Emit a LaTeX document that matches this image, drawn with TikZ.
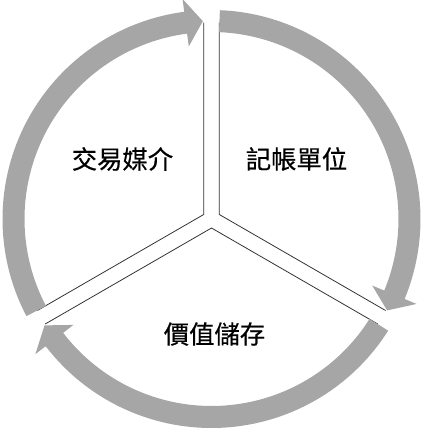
\documentclass[tikz,border=0pt]{standalone}
\usepackage{fontspec}
\newfontfamily\cjk[FakeBold=0.5]{Noto Sans CJK TC}

\begin{document}
\begin{tikzpicture}[x=0.75pt, y=0.75pt,
  band/.style={fill=black!35},
  side/.style={draw=black!80, line width=0.6pt},
  word/.style={font=\cjk\fontsize{19}{22}\selectfont, inner sep=0pt}]

  \useasboundingbox (0,0) rectangle (427,430);
  \coordinate (c) at (211.5,211);

  % three slices, pushed a little apart
  \foreach \a in {90,-30,210}
    \draw[side, shift={(c)}, shift={(\a+60:9)}] (\a:192) -- (0,0) -- (\a+120:192);

  % arrows round the rim
  \foreach \s/\t in {87.7/-27.5, -32.3/-147.5, 207.7/92.5}
    \fill[band, shift={(c)}] (\s:187) arc[start angle=\s, end angle=\t+5, radius=187]
      -- (\t+5:174) -- (\t:198) -- (\t+5:222) -- (\t+5:209)
      arc[start angle=\t+5, end angle=\s, radius=209] -- cycle;

  \node[word] (medium) at (122.5,271) {交易媒介};
  \node[word] (unit) at (296.5,271) {記帳單位};
  \node[word] (store) at (214.5,96) {價值儲存};
\end{tikzpicture}
\end{document}
